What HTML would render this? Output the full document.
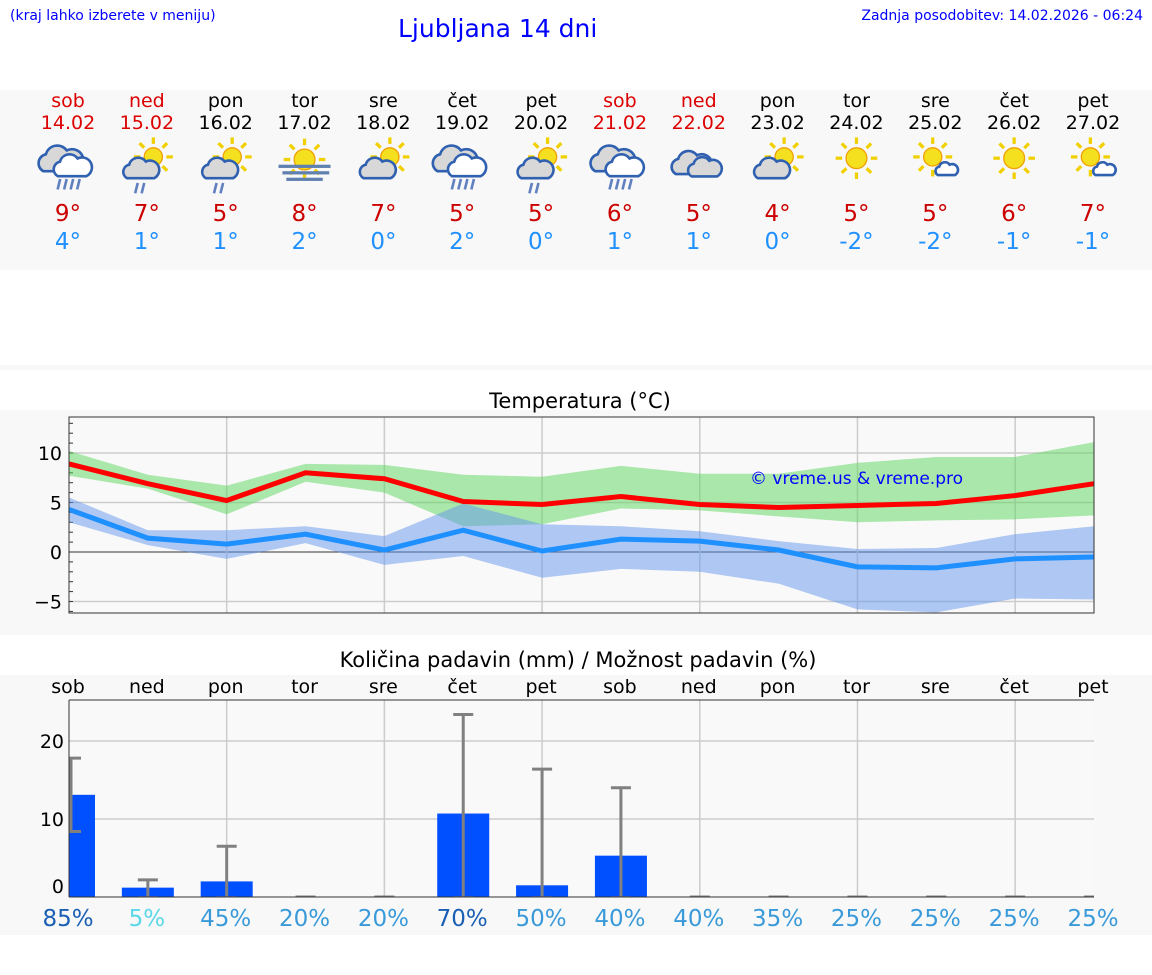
<!DOCTYPE html>
<html><head><meta charset="utf-8"><style>
body{margin:0;width:1152px;height:975px;background:#fff;font-family:"DejaVu Sans","Liberation Sans",sans-serif;position:relative;overflow:hidden}
.a{position:absolute}
</style></head><body>
<div class="a" style="left:10px;top:8px;font-size:14px;color:#00f">(kraj lahko izberete v meniju)</div>
<div class="a" style="left:398px;top:14px;font-size:25px;color:#00f">Ljubljana 14 dni</div>
<div class="a" style="right:9px;top:8px;font-size:14px;color:#00f">Zadnja posodobitev: 14.02.2026 - 06:24</div>
<div class="a" style="left:0;top:90px;width:1152px;height:180px;background:#f8f8f8"></div>
<div class="a" style="left:0;top:365px;width:1152px;height:5px;background:#f8f8f8"></div>
<svg class="a" id="s" style="left:0;top:0" width="1152" height="975"></svg>
<script>
const days=["sob","ned","pon","tor","sre","čet","pet","sob","ned","pon","tor","sre","čet","pet"];
const dates=["14.02","15.02","16.02","17.02","18.02","19.02","20.02","21.02","22.02","23.02","24.02","25.02","26.02","27.02"];
const icons=["rain","sunrain","sunrain","fog","suncloud","rain","sunrain","rain","cloud","suncloud","sun","sunsmall","sun","sunsmall"];
const hiTemp=[9,7,5,8,7,5,5,6,5,4,5,5,6,7];
const loTemp=[4,1,1,2,0,2,0,1,1,0,-2,-2,-1,-1];
const maxLine=[8.9,6.9,5.2,8.0,7.4,5.1,4.8,5.6,4.8,4.5,4.7,4.9,5.7,6.9];
const maxHi=[10.2,7.8,6.7,8.9,8.8,7.8,7.6,8.7,7.9,7.9,9.0,9.6,9.6,11.1];
const maxLo=[7.7,6.4,3.8,7.1,6.0,2.6,2.8,4.4,4.2,3.6,3.0,3.2,3.3,3.7];
const minLine=[4.3,1.4,0.8,1.8,0.2,2.2,0.1,1.3,1.1,0.2,-1.5,-1.6,-0.7,-0.5];
const minHi=[5.5,2.2,2.2,2.6,1.6,4.9,2.8,2.6,2.1,1.1,0.3,0.4,1.8,2.6];
const minLo=[3.0,0.7,-0.7,0.9,-1.3,-0.4,-2.6,-1.7,-2.0,-3.2,-5.8,-6.1,-4.7,-4.8];
const precip=[13.1,1.2,2.0,0,0,10.7,1.5,5.3,0,0,0,0,0,0];
const precipHi=[17.8,2.2,6.5,0,0,23.4,16.4,14.0,0,0,0,0,0,0];
const precipLo=[8.4,0,0,0,0,0,0,0,0,0,0,0,0,0];
const chance=[85,5,45,20,20,70,50,40,40,35,25,25,25,25];
const tTicks=[10,5,0,-5];
const pTicks=[20,10,0];

const S=document.getElementById('s');const NS='http://www.w3.org/2000/svg';
function el(t,a,p){const e=document.createElementNS(NS,t);for(const k in a)e.setAttribute(k,a[k]);(p||S).appendChild(e);return e}
const X=i=>69+i*1025/13;
const weekend=i=>days[i]=="sob"||days[i]=="ned";
days.forEach((d,i)=>{const x=X(i)-1,c=weekend(i)?"#d00":"#000";
 let t=el('text',{x:x,y:107,'text-anchor':'middle','font-size':19,fill:c});t.textContent=d;
 t=el('text',{x:x,y:129,'text-anchor':'middle','font-size':19,fill:c});t.textContent=dates[i];
 t=el('text',{x:x,y:221,'text-anchor':'middle','font-size':23,fill:"#c00"});t.textContent=hiTemp[i]+"°";
 t=el('text',{x:x,y:249,'text-anchor':'middle','font-size':23,fill:"#1e90ff"});t.textContent=loTemp[i]+"°";
 const g=el('g',{transform:`translate(${x},166) scale(1.3)`});
 const ic=icons[i];
 function sun(cx,cy,r){for(let k=0;k<8;k++){const a=k*Math.PI/4;el('line',{x1:cx+Math.cos(a)*(r+3),y1:cy+Math.sin(a)*(r+3),x2:cx+Math.cos(a)*(r+8),y2:cy+Math.sin(a)*(r+8),stroke:'#f0d000','stroke-width':2.5},g)}el('circle',{cx:cx,cy:cy,r:r,fill:'#f5e020',stroke:'#f0a000','stroke-width':1},g)}
 function cloud(cx,cy,s,f){el('path',{d:`M${cx-14*s},${cy+8*s} a${7*s},${7*s} 0 0 1 ${2*s},-${13*s} a${9*s},${9*s} 0 0 1 ${16*s},-${3*s} a${7*s},${7*s} 0 0 1 ${8*s},${16*s} z`,fill:f||'#d8d8d8',stroke:'#3060b0','stroke-width':2},g)}
 function rain(cx,cy,n){for(let k=0;k<n;k++)el('line',{x1:cx+k*5+2,y1:cy,x2:cx+k*5,y2:cy+8,stroke:'#6080c0','stroke-width':2},g)}
 if(ic=="rain"){cloud(-5,-4,1);cloud(4,1,0.85,'#fff');rain(-8,10,4)}
 else if(ic=="sunrain"){sun(5,-7,7);cloud(-4,3,0.8);rain(-9,13,2)}
 else if(ic=="suncloud"){sun(5,-7,7);cloud(-4,3,0.8)}
 else if(ic=="cloud"){cloud(-5,-1,0.9);cloud(5,2,0.75)}
 else if(ic=="fog"){sun(0,-5,8);for(let k=0;k<3;k++)el('rect',{x:k==1?-17:-20+k*3,y:-1+k*5,width:k==1?36:40-k*6,height:2.5,fill:'#6080b0'},g)}
 else if(ic=="sun"){sun(0,-6,8)}
 else if(ic=="sunsmall"){sun(-2,-7,7);cloud(9,3,0.5,'#fff')}
});
el('rect',{x:0,y:410,width:1152,height:225,fill:'#f8f8f8'});
let t=el('text',{x:580,y:408,'text-anchor':'middle','font-size':21,fill:'#000'});t.textContent="Temperatura (°C)";
const L=69,R=1094,T0=417,B0=613;
el('rect',{x:L,y:T0,width:R-L,height:B0-T0,fill:'#f9f9f9'});
const Y=v=>552-v*9.9;
tTicks.forEach(v=>{el('line',{x1:L,x2:R,y1:Y(v),y2:Y(v),stroke:v==0?'#333':'#ccc','stroke-width':v==0?1:1.5});
 const tt=el('text',{x:62,y:Y(v)+7,'text-anchor':'end','font-size':19});tt.textContent=v<0?"−"+(-v):v;});
for(let v=-6;v<=13;v++)el('line',{x1:L,x2:L+4,y1:Y(v),y2:Y(v),stroke:'#333'});
for(let i=2;i<14;i+=2)el('line',{x1:X(i),x2:X(i),y1:T0,y2:B0,stroke:'#ccc','stroke-width':1.5});
function band(hi,lo,c,name){let d="M"+hi.map((v,i)=>X(i)+","+Y(v)).join("L")+"L"+lo.map((v,i)=>X(i)+","+Y(v)).reverse().join("L")+"Z";const p=el('path',{d:d,fill:c,opacity:0.5});}
function line(a,c,name){const p=el('polyline',{points:a.map((v,i)=>X(i)+","+Y(v)).join(" "),fill:'none',stroke:c,'stroke-width':5});}
band(maxHi,maxLo,'#5cd65c','max-temp-band');band(minHi,minLo,'#6495ed','min-temp-band');
line(maxLine,'#f00','max-temp-line');line(minLine,'#1e90ff','min-temp-line');
el('rect',{x:L,y:T0,width:R-L,height:B0-T0,fill:'none',stroke:'#333'});
t=el('text',{x:750,y:484,'font-size':17,fill:'#00f'});t.textContent="© vreme.us & vreme.pro";
el('rect',{x:0,y:675,width:1152,height:260,fill:'#f8f8f8'});
t=el('text',{x:578,y:667,'text-anchor':'middle','font-size':21});t.textContent="Količina padavin (mm) / Možnost padavin (%)";
const PT=700,PB=897,P=v=>897-v*7.8;
el('rect',{x:L,y:PT,width:R-L,height:PB-PT,fill:'#f9f9f9'});
pTicks.forEach(v=>{if(v)el('line',{x1:L,x2:R,y1:P(v),y2:P(v),stroke:'#ccc','stroke-width':1.5});
 const tt=el('text',{x:64,y:(v?P(v):886)+7,'text-anchor':'end','font-size':19});tt.textContent=v;});
for(let i=2;i<14;i+=2)el('line',{x1:X(i),x2:X(i),y1:PT,y2:PB,stroke:'#ccc','stroke-width':1.5});
const cp=el('clipPath',{id:'pc'});el('rect',{x:L,y:PT,width:R-L,height:PB-PT},cp);
const pg=el('g',{'clip-path':'url(#pc)'});
precip.forEach((v,i)=>{const x=X(i);
 if(v>0){const b=el('rect',{x:x-26,y:P(v),width:52,height:PB-P(v),fill:'#0050ff'},pg);}
 const ex=i==0?L+2:x;
 el('line',{x1:ex,x2:ex,y1:P(precipHi[i]),y2:P(precipLo[i]),stroke:'#808080','stroke-width':3},pg);
 el('line',{x1:ex-10,x2:ex+10,y1:P(precipHi[i]),y2:P(precipHi[i]),stroke:'#808080','stroke-width':3},pg);
 el('line',{x1:ex-10,x2:ex+10,y1:P(precipLo[i]),y2:P(precipLo[i]),stroke:'#808080','stroke-width':precipLo[i]?3:1.5},pg);
 const d=el('text',{x:x-1,y:693,'text-anchor':'middle','font-size':19});d.textContent=days[i];
 const c=chance[i]>=70?'#1a5fb4':chance[i]<10?'#5ad8e8':'#3a9ad9';
 const p=el('text',{x:x-1,y:926,'text-anchor':'middle','font-size':23,fill:c});p.textContent=chance[i]+"%";
});
el('line',{x1:L,x2:R,y1:PT,y2:PT,stroke:'#333'});el('line',{x1:L,x2:L,y1:PT,y2:PB,stroke:'#333'});el('line',{x1:L,x2:R,y1:PB,y2:PB,stroke:'#333'});
</script>
</body></html>
